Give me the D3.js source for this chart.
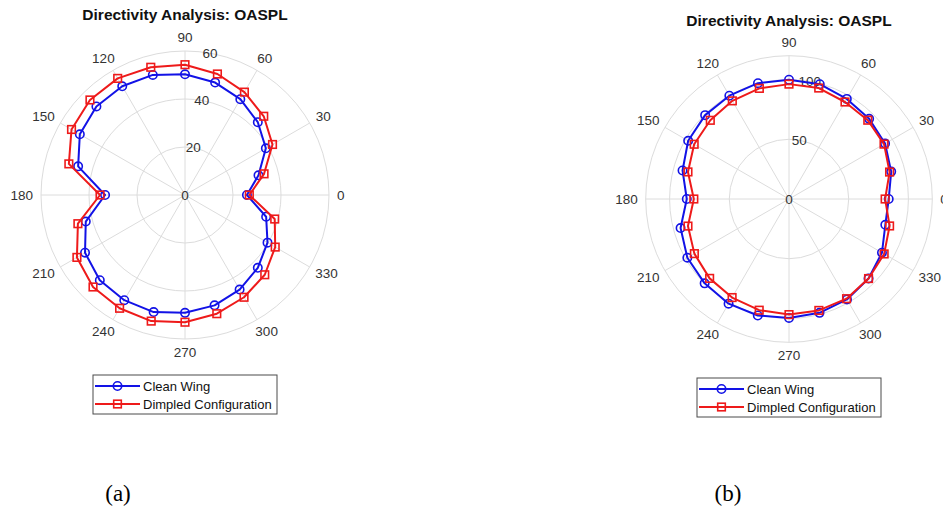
<!DOCTYPE html>
<html>
<head>
<meta charset="utf-8">
<script src="https://cdn.jsdelivr.net/npm/d3@7"></script>
<style>
  html, body { margin: 0; padding: 0; background: #fff; }
  svg { display: block; }
</style>
</head>
<body>
<svg id="fig" width="943" height="513"></svg>
<script>
// Measurement angles (degrees, counter-clockwise from the 0° axis)
const angles = [0, 15, 30, 45, 60, 75, 90, 105, 120, 135, 150, 165,
                180, 195, 210, 225, 240, 255, 270, 285, 300, 315, 330, 345];

// Panel (a) OASPL directivity
const cleanA   = [25.8, 31.7, 38.9, 42.9, 46.1, 48.5, 50.3, 51.8, 52.3, 52.2, 50.6, 46.1,
                  33.3, 42.8, 48.1, 50.2, 50.6, 50.5, 49.1, 47.6, 45.5, 42.9, 39.7, 35.0];
const dimpledA = [26.8, 34.1, 42.1, 46.4, 49.5, 52.2, 54.3, 55.1, 56.1, 56.0, 54.6, 50.1,
                  35.4, 46.2, 52.0, 54.2, 54.5, 54.4, 53.0, 51.2, 49.2, 47.0, 43.4, 38.7];

// Panel (b) OASPL directivity
const cleanB   = [83.5, 88.6, 92.9, 94.9, 96.8, 99.5, 99.9, 100.4, 99.9, 99.3, 97.5, 92.3,
                  85.6, 94.0, 98.3, 99.9, 101.2, 101.0, 99.6, 98.7, 97.1, 94.2, 89.9, 83.5];
const dimpledB = [80.5, 87.2, 91.9, 93.3, 93.8, 96.2, 96.2, 95.9, 94.9, 93.2, 91.7, 87.6,
                  79.7, 87.6, 91.5, 94.0, 95.3, 96.4, 96.8, 96.6, 96.4, 94.2, 92.0, 87.2];

const thetaTicks = [0, 30, 60, 90, 120, 150, 180, 210, 240, 270, 300, 330];
const rTicksA = [0, 20, 40, 60];
const rTicksB = [0, 50, 100];

const seriesNames = ["Clean Wing", "Dimpled Configuration"];
const titleText = "Directivity Analysis: OASPL";
const panelLabels = ["(a)", "(b)"];

const BLUE = "#1212e6";
const RED = "#ee1a1a";
const GRID = "#dcdcdc";
const TICK = "#333333";
const SANS = "'Liberation Sans', Arial, Helvetica, sans-serif";

const svg = d3.select("#fig");

function rad(deg) { return deg * Math.PI / 180; }

function drawCircleMarker(g, x, y, color) {
  g.append("circle").attr("cx", x).attr("cy", y).attr("r", 4.2)
    .attr("fill", "none").attr("stroke", color).attr("stroke-width", 1.6);
}
function drawSquareMarker(g, x, y, color) {
  const s = 7.6;
  g.append("rect").attr("x", x - s / 2).attr("y", y - s / 2)
    .attr("width", s).attr("height", s)
    .attr("fill", "none").attr("stroke", color).attr("stroke-width", 1.6);
}

function polarPanel(opts) {
  const { cx, cy, R, rMax, rTicks, clean, dimpled, titleY, legendY } = opts;
  const g = svg.append("g").attr("transform", `translate(${cx},${cy})`);
  const r = d3.scaleLinear().domain([0, rMax]).range([0, R]);

  // radial rings
  const ringVals = rTicks.filter(v => v > 0 && v < rMax).concat([rMax]);
  g.selectAll("circle.ring").data(ringVals).join("circle")
    .attr("class", "ring")
    .attr("r", d => r(d))
    .attr("fill", "none").attr("stroke", GRID).attr("stroke-width", 1);

  // angular spokes
  g.selectAll("line.spoke").data(thetaTicks).join("line")
    .attr("class", "spoke")
    .attr("x1", 0).attr("y1", 0)
    .attr("x2", d => R * Math.cos(rad(d)))
    .attr("y2", d => -R * Math.sin(rad(d)))
    .attr("stroke", GRID).attr("stroke-width", 1);

  // angular tick labels
  const fs = 13.5;
  thetaTicks.forEach(t => {
    const c = Math.cos(rad(t)), s = Math.sin(rad(t));
    const txt = g.append("text").text(t)
      .attr("font-family", SANS).attr("font-size", fs)
      .attr("fill", TICK).attr("text-anchor", "middle")
      .attr("dominant-baseline", "central");
    const w = txt.node().getComputedTextLength();
    const h = fs * 0.8;
    const d0 = R + 8;
    txt.attr("x", d0 * c + c * w / 2).attr("y", -d0 * s - s * h / 2);
  });

  // radial tick labels along the 80° direction
  const ra = rad(80);
  g.selectAll("text.rtick").data(rTicks).join("text")
    .attr("class", "rtick")
    .attr("x", d => r(d) * Math.cos(ra))
    .attr("y", d => -r(d) * Math.sin(ra))
    .attr("text-anchor", "middle").attr("dominant-baseline", "central")
    .attr("font-family", SANS).attr("font-size", fs).attr("fill", TICK)
    .text(d => d);

  // data curves
  const line = d3.lineRadial()
    .angle(d => Math.PI / 2 - rad(d[0]))
    .radius(d => r(d[1]))
    .curve(d3.curveLinearClosed);

  const series = [
    { vals: clean, color: BLUE, marker: drawCircleMarker },
    { vals: dimpled, color: RED, marker: drawSquareMarker }
  ];
  series.forEach(sr => {
    const pts = angles.map((a, i) => [a, sr.vals[i]]);
    g.append("path").attr("d", line(pts))
      .attr("fill", "none").attr("stroke", sr.color)
      .attr("stroke-width", 2).attr("stroke-linejoin", "round");
    const mg = g.append("g");
    pts.forEach(p => {
      const x = r(p[1]) * Math.cos(rad(p[0]));
      const y = -r(p[1]) * Math.sin(rad(p[0]));
      sr.marker(mg, x, y, sr.color);
    });
  });

  // title
  svg.append("text").attr("x", cx).attr("y", titleY)
    .attr("text-anchor", "middle").attr("dominant-baseline", "central")
    .attr("font-family", SANS).attr("font-size", 15.5).attr("font-weight", "bold")
    .attr("fill", "#111").text(titleText);

  // legend
  const lw = 184, lh = 39;
  const lg = svg.append("g").attr("transform", `translate(${cx - lw / 2},${legendY})`);
  lg.append("rect").attr("width", lw).attr("height", lh)
    .attr("fill", "#fff").attr("stroke", "#4a4a4a").attr("stroke-width", 1);
  series.forEach((sr, i) => {
    const y = 11 + i * 18;
    lg.append("line").attr("x1", 2).attr("x2", 47).attr("y1", y).attr("y2", y)
      .attr("stroke", sr.color).attr("stroke-width", 2);
    sr.marker(lg, 24.5, y, sr.color);
    lg.append("text").attr("x", 50).attr("y", y)
      .attr("dominant-baseline", "central")
      .attr("font-family", SANS).attr("font-size", 13).attr("fill", "#111")
      .text(seriesNames[i]);
  });
}

polarPanel({ cx: 185, cy: 195, R: 144, rMax: 60, rTicks: rTicksA,
             clean: cleanA, dimpled: dimpledA, titleY: 14, legendY: 375 });
polarPanel({ cx: 789, cy: 199, R: 143.3, rMax: 120, rTicks: rTicksB,
             clean: cleanB, dimpled: dimpledB, titleY: 20, legendY: 378 });

// panel captions
const capX = [118, 728];
panelLabels.forEach((t, i) => {
  svg.append("text").attr("x", capX[i]).attr("y", 493)
    .attr("text-anchor", "middle").attr("dominant-baseline", "central")
    .attr("font-family", "'Liberation Serif', 'Times New Roman', serif")
    .attr("font-size", 23).attr("fill", "#000").text(t);
});
</script>
</body>
</html>
